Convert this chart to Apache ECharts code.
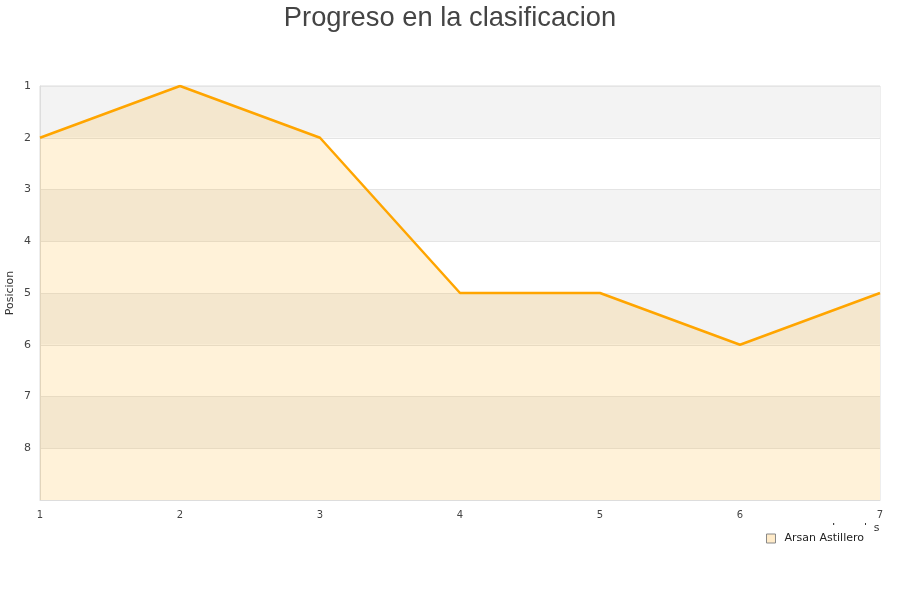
<!DOCTYPE html>
<html><head><meta charset="utf-8">
<script src="https://cdn.jsdelivr.net/npm/echarts@6/dist/echarts.min.js"></script>
<style>html,body{margin:0;padding:0;background:#fff}#c{width:900px;height:600px}</style>
</head><body><div id="c"></div>
<script>
const jornadas = [1, 2, 3, 4, 5, 6, 7];
const posiciones = [2, 1, 2, 5, 5, 6, 5];
const seriesName = 'Arsan Astillero';
const titleText = 'Progreso en la clasificacion';

const chart = echarts.init(document.getElementById('c'));
chart.setOption({
  animation: false,
  title: {text: titleText, left: 'center', top: 0,
    textStyle: {fontFamily: 'Liberation Sans', fontSize: 27.3, fontWeight: 'normal', color: '#444'}},
  grid: {left: 40, right: 20, top: 86, bottom: 100, containLabel: false, outerBoundsMode: 'none',
    show: true, borderColor: '#ddd', borderWidth: 1},
  legend: {right: 26, top: 525, itemWidth: 9, itemHeight: 9, itemGap: 8, z: 10,
    backgroundColor: '#fff', padding: [8, 10, 8, 8],
    textStyle: {fontFamily: 'DejaVu Sans', fontSize: 11, color: '#222', padding: [0, 0, 0, 4]},
    data: [{name: seriesName, icon: 'rect', itemStyle: {color: '#FFEBC9', borderColor: '#888', borderWidth: 1}}]},
  xAxis: {type: 'value', min: 1, max: 7, interval: 1,
    name: 'Jornadas', nameLocation: 'end', nameGap: -48,
    nameTextStyle: {fontFamily: 'DejaVu Sans', fontSize: 11, color: '#333', verticalAlign: 'top', padding: [23, 0, 0, 0]},
    axisLine: {show: true, lineStyle: {color: '#ddd'}}, axisTick: {show: false},
    splitLine: {show: false},
    axisLabel: {fontFamily: 'DejaVu Sans', fontSize: 10, color: '#444', margin: 10}},
  yAxis: {type: 'value', inverse: true, min: 1, max: 9, interval: 1,
    name: 'Posicion', nameLocation: 'middle', nameGap: 24, nameRotate: 90, nameMoveOverlap: false,
    nameTextStyle: {fontFamily: 'DejaVu Sans', fontSize: 11, color: '#333'},
    axisLine: {show: true, lineStyle: {color: '#ddd'}}, axisTick: {show: false},
    splitLine: {show: true, lineStyle: {color: '#e4e4e4'}},
    splitArea: {show: true, areaStyle: {color: ['#f3f3f3', '#ffffff']}},
    axisLabel: {fontFamily: 'DejaVu Sans', fontSize: 11, color: '#444', margin: 9,
      formatter: v => v === 9 ? '' : String(v)}},
  series: [{name: seriesName, type: 'line', data: jornadas.map((j, i) => [j, posiciones[i]]),
    symbol: 'none', lineStyle: {color: '#FFA500', width: 2.5}, itemStyle: {color: '#FFEBC9'},
    areaStyle: {color: 'rgba(255,165,0,0.21)', origin: 'end'}}]
});
</script></body></html>
